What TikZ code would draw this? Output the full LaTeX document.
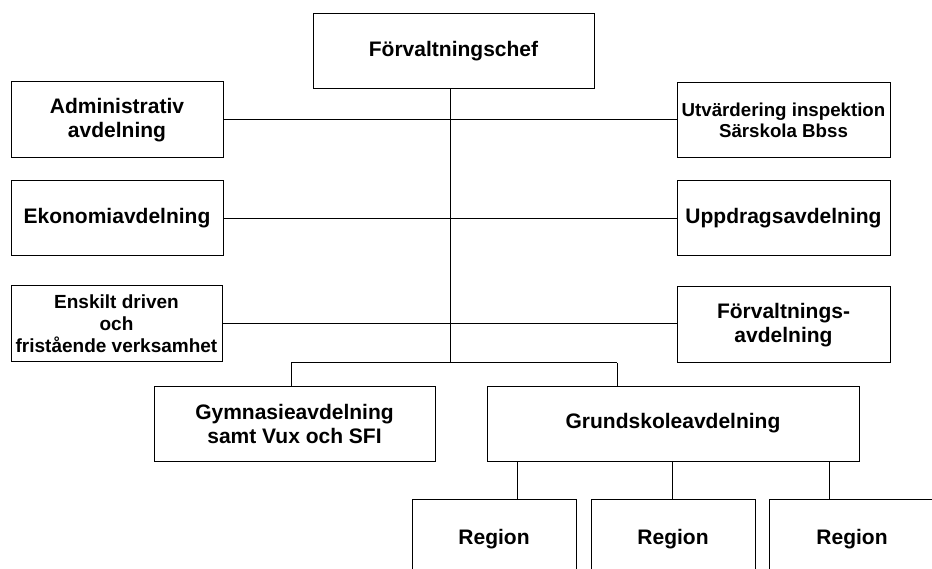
\documentclass[tikz,border=0pt]{standalone}
\usepackage{fontspec}
\setmainfont{Liberation Sans}
\tikzset{
  orgbox/.style={draw=black, line width=1pt, fill=white, inner sep=2pt, align=center,
    font=\fontsize{21}{24}\selectfont\bfseries},
  smalltext/.style={font=\fontsize{18.7}{21.5}\selectfont\bfseries},
  midtext/.style={font=\fontsize{19}{22}\selectfont\bfseries},
  link/.style={draw=black, line width=1pt}
}
\begin{document}
\begin{tikzpicture}[x=1pt,y=-1pt]
\clip (0,0) rectangle (932,569);
\fill[white] (0,0) rectangle (932,569);
% boxes
\node[orgbox, minimum width=281pt, minimum height=75pt] (chef) at (453.5,51.5) {Förvaltningschef};
\node[orgbox, minimum width=212pt, minimum height=76pt] (admin) at (117,120) {Administrativ\\avdelning};
\node[orgbox, smalltext, minimum width=213pt, minimum height=75pt] (utv) at (783.5,120.5) {Utvärdering inspektion\\Särskola Bbss};
\node[orgbox, minimum width=212pt, minimum height=75pt] (ekon) at (117,218.5) {Ekonomiavdelning};
\node[orgbox, minimum width=213pt, minimum height=75pt] (upp) at (783.5,218.5) {Uppdragsavdelning};
\node[orgbox, midtext, minimum width=211pt, minimum height=76pt] (ensk) at (116.5,324) {Enskilt driven\\och\\fristående verksamhet};
\node[orgbox, minimum width=213pt, minimum height=76pt] (forv) at (783.5,325) {Förvaltnings-\\avdelning};
\node[orgbox, minimum width=281pt, minimum height=75pt] (gym) at (294.5,423.5) {Gymnasieavdelning\\samt Vux och SFI};
\node[orgbox, minimum width=372pt, minimum height=75pt] (grund) at (673,423.5) {Grundskoleavdelning};
\node[orgbox, minimum width=164pt, minimum height=79pt] (r1) at (494,539) {Region};
\node[orgbox, minimum width=164pt, minimum height=79pt] (r2) at (673,539) {Region};
\node[orgbox, minimum width=190pt, minimum height=79pt, text width=186pt, inner sep=0pt] (r3) at (864,539) {\hspace*{-24pt}Region};
% junction coordinates
\coordinate (trunk) at (450,363);
\coordinate (gl) at (291,363);
\coordinate (gr) at (617,363);
\coordinate (d1) at (517,480);
\coordinate (d2) at (672,480);
\coordinate (d3) at (829,480);
% connectors
\draw[link] (chef.south -| trunk) -- (trunk);
\draw[link] (admin.east) -- (admin.east -| utv.west);
\draw[link] (ekon.east) -- (ekon.east -| upp.west);
\draw[link] (ensk.east) -- (ensk.east -| forv.west);
\draw[link] (gl) -- (gr);
\draw[link] (gl) -- (gl |- gym.north);
\draw[link] (gr) -- (gr |- grund.north);
\draw[link] (grund.south -| d1) -- (r1.north -| d1);
\draw[link] (grund.south -| d2) -- (r2.north -| d2);
\draw[link] (grund.south -| d3) -- (r3.north -| d3);
\end{tikzpicture}
\end{document}
